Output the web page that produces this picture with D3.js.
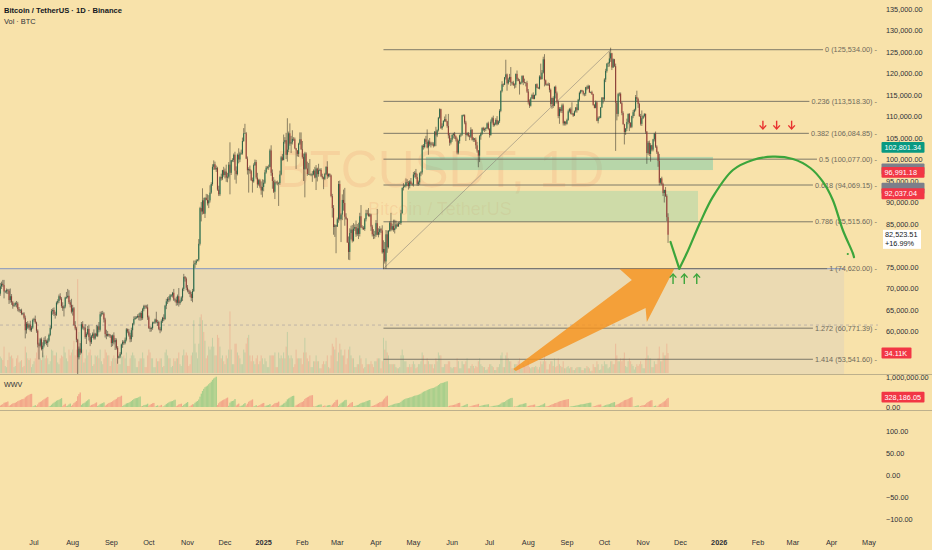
<!DOCTYPE html>
<html><head><meta charset="utf-8">
<script src="https://cdn.jsdelivr.net/npm/d3@7"></script>
<style>
html,body{margin:0;padding:0;background:#f8e2aa;}
svg{display:block;font-family:"Liberation Sans",Arial,sans-serif;}
</style></head><body>
<svg id="c" width="932" height="550"></svg>
<script>
// ---------- DATA (daily BTCUSDT, values in thousands USDT / thousands BTC) ----------
const startDate = "2024-06-03";
const firstOpen = 67.8;
const closes = [
68.8,70.5,71.1,70.8,69.3,69.3,69.6,69.5,67.3,68.2,66.8,66.0,66.2,66.6,66.5,65.2,64.9,64.9,64.1,64.2,63.2,60.3,61.8,60.9,61.6,60.3,60.9,62.7,
62.9,62.1,60.2,57.0,56.7,58.2,55.9,56.7,58.0,57.7,57.3,57.9,59.2,60.8,64.7,65.0,64.1,63.9,66.7,67.1,68.2,67.6,65.9,65.4,65.8,67.9,68.0,68.3,66.8,66.2,64.6,
65.4,61.5,60.7,58.1,54.0,56.0,55.1,61.7,60.9,60.9,58.7,59.4,60.6,58.7,57.5,58.9,59.5,58.4,59.5,59.0,61.2,60.4,64.0,64.2,64.2,62.8,59.4,59.0,59.4,59.1,58.9,
57.3,59.1,57.5,58.0,56.2,53.9,54.2,54.8,57.0,57.6,57.3,58.1,60.5,60.0,59.1,58.2,60.3,61.8,62.9,63.2,63.3,63.6,63.3,64.3,63.1,65.2,65.9,65.8,65.6,63.3,
60.8,60.6,60.8,62.1,62.1,62.8,62.2,62.2,60.6,60.3,62.4,63.2,62.9,66.0,67.0,67.6,67.4,68.4,68.4,69.0,67.4,67.4,66.7,68.2,66.6,67.0,67.9,69.9,72.7,72.3,70.2,
69.5,69.3,68.7,67.8,69.4,75.6,75.9,76.5,76.7,80.4,88.7,87.9,90.5,87.4,91.1,90.6,89.8,90.5,92.3,94.3,98.3,98.9,97.7,98.0,93.0,91.9,95.9,95.6,97.5,96.4,
97.2,95.8,96.0,98.8,96.9,99.8,99.9,101.1,97.4,96.6,101.1,100.0,101.4,101.4,104.3,106.1,106.1,100.2,97.5,97.8,97.3,95.2,94.9,98.7,99.4,95.8,94.2,95.2,93.7,92.8,93.6,
94.6,97.0,98.1,98.2,98.3,102.1,96.9,95.0,92.5,94.7,94.6,94.5,94.5,96.5,100.5,99.9,104.1,104.5,101.1,102.3,106.1,103.7,104.0,104.8,104.7,102.6,102.1,101.3,103.7,104.7,102.4,
100.6,97.7,101.4,97.9,96.6,96.6,96.5,96.5,96.5,97.4,95.8,97.9,96.6,97.5,97.6,96.1,95.8,95.5,96.6,98.3,96.1,96.6,96.3,91.5,88.7,84.3,84.7,84.4,
86.1,94.3,86.1,87.2,90.6,89.9,86.7,86.2,80.7,78.5,82.9,83.7,81.1,83.9,84.3,82.6,84.0,82.7,86.8,84.2,84.1,83.8,86.1,87.5,87.4,86.9,87.2,84.4,82.6,82.3,82.5,
85.2,82.5,83.1,83.8,83.5,78.4,79.2,76.3,82.6,79.6,83.4,85.3,83.7,84.5,83.6,84.0,84.9,84.5,85.1,85.2,87.5,93.4,93.7,93.9,94.7,94.6,93.8,94.9,94.3,94.2,
96.5,96.9,95.9,94.3,94.7,96.8,97.0,103.2,102.9,104.7,104.1,102.8,104.2,103.5,103.7,103.5,103.2,106.5,105.6,106.8,109.7,111.7,107.3,107.8,109.0,109.4,108.9,107.8,105.6,103.9,104.6,
105.7,105.9,105.4,104.7,101.6,104.3,105.6,105.8,110.3,110.3,108.6,105.7,106.1,105.5,105.3,106.9,104.6,104.9,104.6,103.3,102.1,100.9,105.4,106.0,107.3,106.9,107.1,107.3,108.4,107.1,
105.7,108.8,109.6,108.0,108.2,109.2,108.2,108.9,111.3,115.9,117.5,117.4,119.1,119.8,117.7,118.6,119.2,117.9,117.9,117.3,117.4,119.9,118.7,118.3,117.6,117.9,119.4,118.0,117.9,117.8,115.8,
113.3,112.5,114.2,115.0,114.1,115.0,117.5,116.7,116.5,119.3,118.7,120.2,123.3,118.4,117.4,117.5,117.4,116.2,112.9,114.3,112.5,116.9,115.4,113.5,110.1,111.8,111.3,112.6,108.4,108.8,108.3,
109.2,111.2,111.7,110.7,110.7,110.2,111.2,112.1,111.5,113.9,115.5,116.1,115.9,115.3,115.3,116.8,116.5,117.1,115.6,115.7,115.2,112.7,112.0,113.3,109.0,109.7,109.7,112.1,114.4,114.0,
118.6,120.6,122.3,122.4,123.5,124.7,121.4,123.3,121.7,113.2,110.6,115.2,115.3,113.1,110.8,108.2,106.4,107.2,108.7,110.6,108.5,107.6,110.1,111.0,111.6,114.5,114.1,112.9,110.1,108.3,109.6,
110.1,110.6,106.5,101.5,103.9,101.3,103.3,102.3,104.7,106.0,103.0,101.7,99.7,94.6,95.6,94.3,92.2,92.9,91.5,86.6,82.5
];
const upperWicks = [
0.6,0.8,0.5,0.9,1.2,0.3,0.4,0.3,0.4,1.8,0.5,0.3,0.4,0.3,0.5,0.4,0.5,0.3,0.4,0.2,0.3,0.5,0.4,0.6,0.3,0.9,0.4,0.3,
0.3,0.8,0.2,0.3,0.4,0.3,0.4,0.8,0.6,0.9,0.4,0.5,0.3,0.6,0.5,0.4,0.6,0.5,0.3,0.4,0.4,0.7,0.4,0.9,0.3,0.2,1.2,1.6,1.3,0.5,1.4,
0.8,0.3,0.9,0.4,0.2,0.5,1.3,0.5,0.7,0.3,0.8,0.4,0.7,1.0,0.9,0.3,0.3,1.0,0.2,2.0,0.2,1.0,0.6,0.5,0.6,0.3,0.4,1.0,0.7,0.1,0.3,
0.3,0.2,0.7,0.5,0.4,0.4,0.2,0.4,0.2,0.4,0.3,0.5,0.3,0.2,0.6,0.6,0.6,0.2,0.6,0.4,0.3,0.4,0.6,0.2,0.5,0.3,0.3,0.3,0.4,0.7,
0.4,0.4,0.3,0.2,0.2,0.2,1.8,0.5,0.3,0.4,0.4,0.2,0.8,0.2,0.6,0.4,0.6,0.3,0.3,0.2,0.9,0.3,0.7,0.4,1.9,0.4,0.3,0.3,0.7,0.2,0.3,
0.6,0.3,0.3,0.5,0.5,0.9,0.6,0.3,0.1,1.1,0.3,1.4,2.8,0.6,0.1,0.9,1.3,1.2,1.7,0.4,0.6,0.9,0.6,0.6,0.3,0.9,0.2,0.8,0.1,0.8,
0.7,1.6,0.9,0.6,5.2,0.1,0.4,0.3,0.7,1.0,0.3,1.5,0.4,0.9,0.8,1.2,2.2,0.3,0.5,0.4,0.8,0.3,0.6,0.4,0.6,0.5,1.1,0.3,0.3,1.2,1.8,
0.7,0.6,0.4,0.3,0.5,0.4,1.2,0.8,0.9,0.6,0.3,0.5,0.3,0.9,0.3,0.8,1.7,0.7,1.7,7.3,0.4,2.3,1.5,2.0,0.4,0.4,0.1,0.1,0.2,1.6,1.6,
1.9,0.8,0.4,0.3,1.6,2.6,3.5,0.3,0.8,0.3,0.9,0.8,0.2,1.5,0.3,0.4,0.6,0.2,0.3,0.1,1.3,0.2,0.2,0.2,0.5,0.7,0.3,0.1,
0.4,0.7,0.8,0.3,1.3,2.4,3.5,0.8,0.2,1.4,1.1,0.9,1.1,1.3,0.6,1.5,1.0,1.3,0.8,2.6,0.5,0.4,0.3,0.8,0.8,1.3,0.3,0.2,0.4,1.2,0.9,
0.7,3.3,0.9,0.7,0.3,1.2,2.0,1.6,1.0,0.9,0.2,0.3,2.3,0.6,1.5,2.0,0.9,0.4,0.4,0.4,0.8,0.1,0.8,0.2,0.9,0.7,0.4,0.3,0.8,0.3,
0.6,0.4,0.9,0.8,0.4,0.2,0.3,0.2,0.4,0.2,0.8,2.9,0.4,0.8,0.4,0.4,0.5,0.1,1.1,0.2,0.2,0.2,0.1,0.6,0.1,0.6,1.1,0.1,2.8,0.5,0.4,
0.2,0.3,0.5,0.2,0.4,0.3,0.2,0.2,0.1,0.2,0.2,0.4,0.2,0.3,0.3,0.6,0.2,0.3,0.1,0.5,0.8,0.1,0.3,0.3,0.2,0.3,0.3,0.2,0.2,0.4,
0.2,0.5,0.3,0.6,0.4,0.4,0.9,0.2,0.4,0.2,0.7,0.2,0.1,3.4,0.2,0.4,0.7,2.3,0.2,0.4,0.3,0.1,0.8,0.3,0.4,0.2,0.2,0.2,0.8,0.1,0.5,
0.6,0.7,0.3,0.3,0.6,0.1,0.1,0.2,0.2,0.3,3.0,0.6,0.6,1.2,0.2,0.2,0.4,0.4,0.3,0.1,0.4,0.1,0.3,0.4,0.2,0.4,0.4,0.4,0.4,0.2,0.1,
0.3,0.4,0.3,0.4,2.6,0.1,0.2,0.1,0.8,0.2,0.3,0.1,0.1,0.2,0.2,0.1,0.4,0.3,0.2,0.1,0.3,0.1,0.2,0.4,0.2,0.3,0.4,0.1,0.1,0.1,
0.3,0.5,0.1,0.3,1.6,1.3,0.1,0.2,0.1,0.6,0.4,0.3,0.3,0.3,0.3,0.4,0.1,0.1,0.8,0.1,0.2,0.2,0.1,0.5,0.2,0.5,1.5,0.3,0.3,0.5,1.8,
0.2,0.2,0.1,0.1,0.4,0.5,0.5,0.1,0.1,0.2,0.5,0.3,0.2,1.6,0.1,0.4,0.3,0.1,0.7,0.4,0.9
];
const lowerWicks = [
0.7,0.5,0.6,0.4,1.6,0.4,0.5,0.8,0.9,0.6,0.6,0.7,0.3,0.4,0.9,0.5,0.4,0.6,0.3,0.3,0.4,1.9,0.8,0.3,0.5,0.3,0.4,0.3,
0.4,0.3,0.5,0.7,3.2,0.4,0.3,1.9,0.4,0.6,0.5,0.9,0.3,0.3,0.3,0.8,0.5,0.9,0.3,0.4,0.5,0.3,0.4,0.6,1.9,0.4,0.3,0.3,0.4,0.6,0.4,
0.9,0.2,0.4,0.6,5.0,0.5,0.5,0.2,0.4,0.6,0.4,1.6,0.3,0.8,0.9,0.4,0.4,0.3,0.3,0.2,0.3,0.6,0.4,0.5,0.3,0.7,0.8,0.8,0.2,0.3,0.4,
0.9,0.7,0.5,1.8,0.4,1.4,0.2,0.4,0.2,0.8,0.4,0.3,0.4,0.4,0.3,0.7,0.6,1.6,0.3,0.2,0.3,0.2,0.7,0.8,0.5,0.4,0.5,0.5,0.3,0.6,
0.2,0.7,0.6,0.4,0.3,0.3,0.3,0.9,0.3,0.7,0.3,0.4,0.5,0.2,0.8,0.6,0.6,0.4,0.4,0.5,0.3,0.6,0.7,0.6,0.8,0.4,0.2,0.8,0.5,0.7,0.6,
0.4,0.6,0.7,0.7,1.0,0.2,0.8,0.4,0.2,0.4,0.4,2.3,0.7,0.1,1.0,0.1,0.5,1.1,0.5,0.3,0.4,0.7,0.1,0.6,0.3,0.4,0.4,0.5,0.4,0.4,
0.8,1.0,1.1,0.4,5.0,0.5,0.4,0.5,2.1,2.2,0.3,0.9,0.6,0.3,0.3,0.2,0.1,0.1,1.0,5.2,0.6,0.2,2.6,0.3,0.2,0.4,0.8,0.3,0.4,1.0,1.6,
1.0,0.3,0.3,0.4,0.6,0.1,0.7,1.8,0.3,1.7,0.4,0.5,5.3,0.4,0.2,0.2,0.1,0.4,1.0,1.6,0.6,0.5,2.2,0.5,0.4,0.2,4.3,0.6,0.7,0.3,0.2,
0.4,2.7,6.5,0.2,0.4,0.1,0.2,0.4,1.7,0.2,0.2,2.9,1.7,0.6,0.2,0.2,0.4,2.4,0.3,0.2,0.6,0.3,0.4,0.3,2.2,1.8,2.3,6.2,
0.1,0.8,0.3,5.3,1.3,1.8,2.1,0.2,0.1,1.8,1.9,1.5,0.4,0.2,0.5,0.6,0.4,1.2,0.6,0.1,0.4,0.2,0.4,0.5,0.4,0.2,0.3,1.0,0.5,0.8,0.7,
0.5,0.1,0.6,0.6,0.6,0.3,3.9,0.5,1.7,1.3,0.3,0.2,0.4,0.2,0.4,0.8,0.2,0.2,0.2,0.2,0.4,0.1,0.6,0.2,0.4,0.8,0.8,0.5,0.1,0.3,
0.5,0.7,0.4,0.4,0.4,0.6,0.7,0.5,0.6,0.3,0.5,0.2,1.7,0.4,0.7,0.3,0.4,0.2,2.5,0.4,0.3,0.2,0.2,0.4,0.2,0.3,0.2,0.4,0.7,0.7,0.4,
0.5,0.8,0.6,0.5,0.4,0.4,0.6,0.4,0.3,0.3,0.4,1.4,0.3,0.3,0.8,0.3,0.2,0.5,0.5,0.8,0.5,2.7,1.5,0.8,0.3,0.3,0.5,0.5,0.2,0.3,
0.6,0.2,0.4,0.4,0.3,0.2,0.3,0.1,0.4,0.3,0.3,0.5,0.1,0.5,1.7,0.3,0.6,0.8,0.5,0.2,0.8,0.7,0.5,0.1,2.5,0.2,0.2,0.7,0.2,0.8,0.3,
0.5,0.5,0.2,0.1,0.1,0.1,0.2,0.1,0.1,0.2,0.2,0.1,0.2,1.4,0.2,0.3,0.3,0.6,0.6,1.1,0.5,0.1,1.2,0.5,0.5,1.8,0.4,0.5,0.5,0.5,0.4,
0.2,0.2,0.3,0.2,0.3,0.3,0.1,0.3,0.6,0.1,0.3,0.3,0.2,0.4,0.6,0.5,0.4,0.1,0.1,0.2,0.2,0.2,0.1,0.1,0.1,0.6,0.1,0.1,0.1,1.0,
0.4,0.6,0.4,0.8,0.8,0.8,0.6,0.1,0.2,11.2,1.5,0.6,0.5,0.2,0.5,0.1,2.9,0.7,0.6,0.5,1.9,0.3,0.3,0.5,0.9,0.4,0.7,0.9,0.2,0.4,0.5,
0.2,0.3,0.5,2.5,0.4,0.5,1.8,0.4,0.4,0.5,0.3,0.4,1.4,0.6,0.4,0.3,0.7,2.2,0.2,0.9,1.9
];
const volumesK = [
20,28,25,22,45,12,10,22,35,28,30,25,10,12,25,30,18,20,22,10,12,45,35,25,22,25,10,15,
20,25,35,50,60,25,22,35,30,25,30,25,15,20,40,38,30,30,35,18,15,25,30,28,45,35,25,20,40,30,35,
40,55,30,40,160,70,55,70,40,18,25,40,30,35,40,30,12,15,30,28,30,25,40,20,15,25,40,35,30,30,12,
20,25,30,25,25,45,15,15,30,28,30,25,35,12,12,25,30,35,30,25,10,10,20,25,25,35,25,10,10,30,
40,35,25,25,10,10,25,20,20,25,25,10,12,35,40,30,25,25,10,12,25,20,25,25,35,15,12,30,40,30,35,
30,12,15,30,35,90,50,35,25,50,95,100,90,70,55,25,30,45,40,45,60,45,30,30,65,60,45,25,30,20,
15,30,25,40,105,40,15,15,50,50,35,30,25,15,15,40,35,50,60,65,30,20,30,20,15,25,30,15,20,30,25,
15,25,20,10,10,30,30,30,30,35,10,10,35,25,30,25,35,25,45,70,30,25,30,25,10,15,40,25,25,25,25,
15,35,60,35,25,20,30,10,10,20,20,30,20,20,8,8,15,20,15,20,30,10,8,30,50,45,40,60,
20,35,50,40,30,30,40,15,25,40,45,30,25,25,10,10,15,15,30,25,15,8,10,25,15,15,15,20,15,10,20,
20,25,25,25,8,20,60,40,55,35,30,15,15,15,15,15,10,8,8,10,30,40,30,20,20,10,10,15,10,15,
20,15,8,10,15,15,20,35,30,15,15,25,20,15,15,15,8,15,25,20,35,30,30,10,10,15,15,15,20,20,10,
8,10,10,10,25,20,8,8,20,15,15,20,25,8,8,12,15,12,8,12,10,20,25,15,12,10,10,5,6,10,
15,15,12,10,5,5,10,10,15,30,35,10,10,30,35,25,20,20,8,8,15,15,15,20,25,8,8,15,12,12,15,
20,10,8,10,10,10,12,10,6,10,20,15,20,30,20,6,6,15,20,20,12,25,10,12,25,15,12,10,20,8,8,
10,12,8,10,10,5,5,8,10,10,10,10,5,5,8,8,12,10,8,3,4,15,10,10,20,15,5,6,15,12,
20,15,15,8,10,20,20,15,15,50,30,20,20,25,20,25,35,12,10,20,25,20,15,12,6,10,15,12,15,20,15,
8,8,25,45,30,25,25,10,10,20,15,15,25,45,20,20,35,30,30,50,34.11
];
const fibRatios = ["0","0.236","0.382","0.5","0.618","0.786","1","1.272","1.414"];
const fibPrices = [125534.00,113518.30,106084.85,100077.00,94069.15,85515.60,74620.00,60771.39,53541.60];
const fibAnchorDates = ["2025-04-07","2025-10-06"];
const fibAnchorPrices = [74620.00,125534.00];
// tick labels (80,000 and 55,000 sit under the value tags in the reference)
const priceTicks = [135000,130000,125000,120000,115000,110000,105000,100000,95000,90000,85000,75000,70000,65000,60000];
const wwvTicks = [1000000,0];
const oscTicks = [100,50,0,-50,-100];
const monthTicks = ["2024-07-01","2024-08-01","2024-09-01","2024-10-01","2024-11-01","2024-12-01","2025-01-01","2025-02-01","2025-03-01","2025-04-01","2025-05-01","2025-06-01","2025-07-01","2025-08-01","2025-09-01","2025-10-01","2025-11-01","2025-12-01","2026-01-01","2026-02-01","2026-03-01","2026-04-01","2026-05-01"];
const zoneDates = [["2025-05-11","2025-12-27"],["2025-04-26","2025-12-15"]];
const zonePrices = [[100600,97550],[92700,85500]];
const greyBoxDates = ["2024-05-20","2026-04-11"];
const greyBoxPrices = [74620,48000];
const dashedLevel = 61500;
const pathStartDates = ["2025-11-23","2025-11-30"];
const pathStartPrices = [80814,74620];
const arcDates = ["2025-11-30","2025-12-06","2025-12-17","2025-12-27","2026-01-12","2026-01-28","2026-02-13","2026-03-01","2026-03-15","2026-03-25","2026-04-02","2026-04-10","2026-04-18","2026-04-19"];
const arcPrices = [74620,78186,85535,91349,97558,99884,100651,100116,98023,94837,90581,83605,78256,77300];
const dotDate = "2026-04-14", dotPrice = 78023;
const downArrowDates = ["2026-02-05","2026-02-16","2026-02-28"];
const downArrowPrices = [109023,107093];
const upArrowDates = ["2025-11-25","2025-12-04","2025-12-14"];
const upArrowPrices = [73372,71046];
const orangeArrowDates = ["2025-11-26","2025-10-13","2025-10-23","2025-07-20","2025-07-22","2025-11-03","2025-11-04"];
const orangeArrowPrices = [74620,74620,71977,51279,50814,65465,62209];
const priceLabels = [
  {v:102801.34, text:"102,801.34", bg:"#089981", fg:"#fff"},
  {v:97790.45, text:"", bg:"#7c7f8a", fg:"#fff"},
  {v:96991.18, text:"96,991.18", bg:"#f23645", fg:"#fff"},
  {v:93318.56, text:"", bg:"#7c7f8a", fg:"#fff"},
  {v:92037.04, text:"92,037.04", bg:"#f23645", fg:"#fff"}
];
const lastPrice = 82523.51, lastChange = "+16.99%";
const lastVolumeText = "34.11K", lastVolume = 34.11;
const lastWwv = 328186.05;

// ---------- SCALES ----------
const W = 932, H = 550, plotR = 878;
const svg = d3.select("#c");
const pd = d3.utcParse("%Y-%m-%d");
const x = d3.scaleUtc().domain([pd("2024-07-01"), pd("2026-05-01")]).range([34, 869]);
const y = d3.scaleLinear().domain([135000, 55000]).range([9, 353]);
const yVol = d3.scaleLinear().domain([0, 34.11]).range([373, 353]);
const yW = d3.scaleLinear().domain([0, 1000000]).range([407, 377]);
const yO = d3.scaleLinear().domain([-100, 100]).range([519, 431]);
const fmt = d3.format(",.2f");
const dayW = x(pd("2024-07-02")) - x(pd("2024-07-01"));

const defs = svg.append("defs");
defs.append("clipPath").attr("id","mainClip").append("rect").attr("x",0).attr("y",0).attr("width",plotR).attr("height",374);
defs.append("clipPath").attr("id","wwvClip").append("rect").attr("x",0).attr("y",375).attr("width",plotR).attr("height",35);

svg.append("rect").attr("width",W).attr("height",H).attr("fill","#f8e2aa");

const start = pd(startDate);
const bars = closes.map((c,i)=>{
  const o = i===0 ? firstOpen : closes[i-1];
  return {date:d3.utcDay.offset(start,i), o:o*1000, c:c*1000,
    h:(Math.max(o,c)+upperWicks[i])*1000, l:(Math.min(o,c)-lowerWicks[i])*1000, v:volumesK[i]};
});

const main = svg.append("g").attr("clip-path","url(#mainClip)");

main.append("text").attr("x",440).attr("y",187).attr("text-anchor","middle")
  .attr("font-size",51).attr("fill","rgba(232,112,72,0.13)").text("BTCUSDT, 1D");
main.append("text").attr("x",440).attr("y",215).attr("text-anchor","middle")
  .attr("font-size",18).attr("fill","rgba(232,112,72,0.13)").text("Bitcoin / TetherUS");

main.append("rect").attr("x",x(pd(greyBoxDates[0]))).attr("y",y(greyBoxPrices[0]))
  .attr("width",x(pd(greyBoxDates[1]))-x(pd(greyBoxDates[0]))).attr("height",y(greyBoxPrices[1])-y(greyBoxPrices[0]))
  .attr("fill","rgba(150,170,230,0.13)");
main.append("line").attr("x1",x(pd(greyBoxDates[0]))).attr("x2",x(pd(greyBoxDates[1])))
  .attr("y1",y(greyBoxPrices[0])).attr("y2",y(greyBoxPrices[0])).attr("stroke","#98a3bb").attr("stroke-width",1.2);

main.append("line").attr("x1",0).attr("x2",plotR).attr("y1",y(dashedLevel)).attr("y2",y(dashedLevel))
  .attr("stroke","#b4a9a6").attr("stroke-width",0.8).attr("stroke-dasharray","3,3");

main.append("g").selectAll("rect").data(bars).join("rect")
  .attr("x",d=>x(d.date)-0.5).attr("width",1.0)
  .attr("y",d=>yVol(d.v)).attr("height",d=>yVol(0)-yVol(d.v))
  .attr("fill",d=>d.c>=d.o?"rgba(70,170,120,0.24)":"rgba(239,90,80,0.24)");

zoneDates.forEach((zd,i)=>{
  main.append("rect").attr("x",x(pd(zd[0]))).attr("width",x(pd(zd[1]))-x(pd(zd[0])))
    .attr("y",y(zonePrices[i][0])).attr("height",y(zonePrices[i][1])-y(zonePrices[i][0]))
    .attr("fill", i===0?"rgba(70,195,170,0.36)":"rgba(120,205,165,0.33)");
});

const fibX0 = x(pd(fibAnchorDates[0]));
const fibG = main.append("g");
fibPrices.forEach((p,i)=>{
  const t = fibG.append("text").attr("x",877).attr("y",y(p)).attr("dy","0.35em").attr("text-anchor","end")
    .attr("font-size",7.3).attr("fill","#6f6a5c").text(`${fibRatios[i]} (${fmt(p)}) -`);
  const bb = t.node().getBBox();
  fibG.insert("line","text").attr("x1",fibX0).attr("x2",bb.x-2).attr("y1",y(p)).attr("y2",y(p))
    .attr("stroke","#716d60").attr("stroke-width",0.9);
});
main.append("line").attr("x1",x(pd(fibAnchorDates[0]))).attr("y1",y(fibAnchorPrices[0]))
  .attr("x2",x(pd(fibAnchorDates[1]))).attr("y2",y(fibAnchorPrices[1]))
  .attr("stroke","#8d877a").attr("stroke-width",0.6);

const cg = main.append("g");
cg.selectAll("rect").data(bars).join("rect")
  .attr("x",d=>x(d.date)-0.55).attr("width",1.1)
  .attr("y",d=>y(Math.max(d.o,d.c))).attr("height",d=>Math.max(0.6,Math.abs(y(d.o)-y(d.c))))
  .attr("fill",d=>d.c>=d.o?"#2e9e6e":"#e0504a");
cg.selectAll("line").data(bars).join("line")
  .attr("x1",d=>x(d.date)).attr("x2",d=>x(d.date)).attr("y1",d=>y(d.h)).attr("y2",d=>y(d.l))
  .attr("stroke","#2f2d26").attr("stroke-width",0.6).attr("stroke-opacity",0.9);

const oaPts = orangeArrowDates.map((d,i)=>[x(pd(d)), y(orangeArrowPrices[i])]);
main.append("path").attr("d", d3.line()(oaPts)+"Z").attr("fill","#f5921f").attr("fill-opacity",0.82);

const green = "#3ba53b";
main.append("path").attr("d", d3.line()(pathStartDates.map((d,i)=>[x(pd(d)),y(pathStartPrices[i])])))
  .attr("fill","none").attr("stroke",green).attr("stroke-width",2.2).attr("stroke-linecap","round");
main.append("path").attr("d", d3.line().curve(d3.curveCatmullRom.alpha(0.5))(arcDates.map((d,i)=>[x(pd(d)),y(arcPrices[i])])))
  .attr("fill","none").attr("stroke",green).attr("stroke-width",2.2).attr("stroke-linecap","round");
main.append("circle").attr("cx",x(pd(dotDate))).attr("cy",y(dotPrice)).attr("r",1.1).attr("fill",green);

function arrow(g, xc, yTip, yTail, color){
  const dir = yTail > yTip ? 1 : -1;
  g.append("line").attr("x1",xc).attr("x2",xc).attr("y1",yTip).attr("y2",yTail)
    .attr("stroke",color).attr("stroke-width",1.4);
  g.append("path").attr("d",`M${xc-3.3},${yTip+dir*3.6}L${xc},${yTip}L${xc+3.3},${yTip+dir*3.6}`)
    .attr("fill","none").attr("stroke",color).attr("stroke-width",1.4);
}
downArrowDates.forEach(d=>arrow(main, x(pd(d)), y(downArrowPrices[1]), y(downArrowPrices[0]), "#e8322f"));
upArrowDates.forEach(d=>arrow(main, x(pd(d)), y(upArrowPrices[0]), y(upArrowPrices[1]), green));

// ---------- WWV (Weis wave volume computed from the bars) ----------
const wwvLen = 5;
let trend=0, wave=0, cum=0, prevMov=0;
const wwv = bars.map((b,i)=>{
  const pc = i>0 ? bars[i-1].c : b.o;
  const mov = b.c>pc?1:(b.c<pc?-1:0);
  if (mov!==0 && mov!==prevMov) trend = mov;
  prevMov = mov;
  let rising=false, falling=false;
  if (i>=wwvLen){
    const prev = bars.slice(i-wwvLen,i).map(d=>d.c);
    rising = b.c > d3.max(prev); falling = b.c < d3.min(prev);
  }
  const prevWave = wave;
  if (trend!==wave && (rising||falling)) wave = trend;
  cum = (wave===prevWave && i>0) ? cum + b.v*1000 : b.v*1000;
  return {date:b.date, v:cum, up:wave===1};
});
svg.append("g").attr("clip-path","url(#wwvClip)").selectAll("rect").data(wwv).join("rect")
  .attr("x",d=>x(d.date)-dayW/2).attr("width",dayW+0.1)
  .attr("y",d=>yW(d.v)).attr("height",d=>yW(0)-yW(d.v))
  .attr("fill",d=>d.up?"#a9cf8c":"#f3a88a");

[374,410].forEach(v=>svg.append("line").attr("x1",0).attr("x2",W).attr("y1",v+0.5).attr("y2",v+0.5)
  .attr("stroke","#bdb08c").attr("stroke-width",1));

const axisCol = "#2f3037", fs = 7.3;
const pa = svg.append("g").attr("font-size",fs).attr("fill",axisCol);
priceTicks.forEach(v=>pa.append("text").attr("x",886).attr("y",y(v)).attr("dy","0.35em").text(fmt(v)));
wwvTicks.forEach(v=>pa.append("text").attr("x",886).attr("y",yW(v)).attr("dy","0.35em").text(fmt(v)));
oscTicks.forEach(v=>pa.append("text").attr("x",886).attr("y",yO(v)).attr("dy","0.35em").text(fmt(v)));

function tag(v, scale, text, bg, fg, w){
  const yy = scale(v);
  svg.append("rect").attr("x",881.5).attr("y",yy-5.4).attr("width",w).attr("height",10.8).attr("rx",1).attr("fill",bg);
  if (text) svg.append("text").attr("x",884.5).attr("y",yy).attr("dy","0.36em").attr("font-size",fs).attr("fill",fg).text(text);
}
priceLabels.forEach(p=>tag(p.v, y, p.text, p.bg, p.fg, 43));
{
  const yy = y(lastPrice);
  svg.append("rect").attr("x",883).attr("y",yy-4.8).attr("width",38).attr("height",19).attr("fill","#ffffff");
  svg.append("text").attr("x",885).attr("y",yy).attr("dy","0.36em").attr("font-size",fs).attr("fill","#131722").text(fmt(lastPrice));
  svg.append("text").attr("x",885).attr("y",yy+8.6).attr("dy","0.36em").attr("font-size",fs).attr("fill","#131722").text(lastChange);
}
tag(lastVolume, yVol, lastVolumeText, "#f23645", "#fff", 30);
tag(lastWwv, yW, fmt(lastWwv), "#f23645", "#fff", 43);

const ta = svg.append("g").attr("font-size",fs).attr("fill",axisCol);
monthTicks.forEach(s=>{
  const d = pd(s), isYear = d.getUTCMonth()===0;
  ta.append("text").attr("x",x(d)).attr("y",542).attr("dy","0.35em").attr("text-anchor","middle")
    .attr("font-weight",isYear?"bold":"normal").text(isYear?d3.utcFormat("%Y")(d):d3.utcFormat("%b")(d));
});

svg.append("text").attr("x",4).attr("y",12.5).attr("font-size",7.6).attr("font-weight","bold").attr("fill","#131722")
  .text("Bitcoin / TetherUS · 1D · Binance");
svg.append("text").attr("x",4).attr("y",23.5).attr("font-size",7.4).attr("fill","#2f3037").text("Vol · BTC");
svg.append("text").attr("x",4).attr("y",387).attr("font-size",7.2).attr("fill","#2f3037").text("WWV");
</script>
</body></html>
